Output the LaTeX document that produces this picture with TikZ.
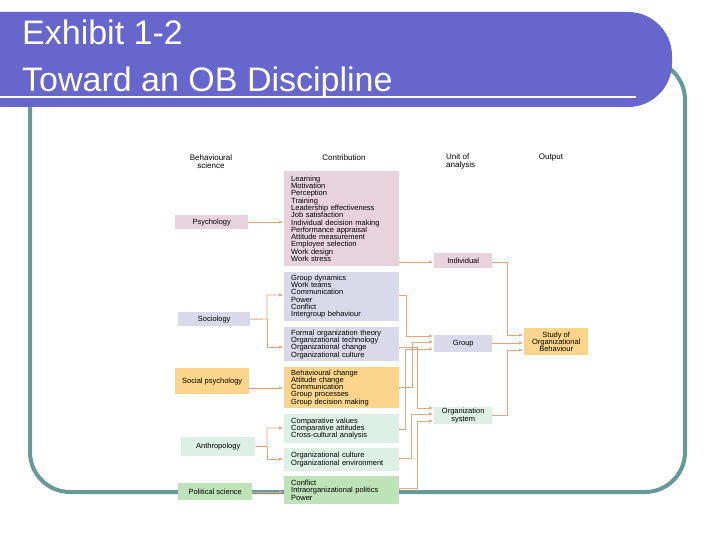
\documentclass[tikz,border=0pt]{standalone}
\usepackage{fontspec}
\setmainfont{Liberation Sans}
\usetikzlibrary{arrows.meta,calc}
\definecolor{pinkb}{HTML}{E8D3DD}
\definecolor{lavb}{HTML}{D9D9EA}
\definecolor{orb}{HTML}{FCD58C}
\definecolor{mintb}{HTML}{DDF0E6}
\definecolor{greenb}{HTML}{BFE3B8}
\definecolor{arr}{HTML}{E5A37E}
\definecolor{banner}{HTML}{6666CC}
\definecolor{frame}{HTML}{669999}
\tikzset{
  box/.style={fill=#1,inner sep=0pt,anchor=north west,font=\fontsize{7.5}{7.3}\selectfont},
  contrib/.style={box=#1,minimum width=115,text width=101,align=left},
  disc/.style={box=#1,align=center},
  unit/.style={box=#1,minimum width=58,align=center},
  conn/.style={draw=arr,line width=0.9pt,-{Latex[length=5pt,width=3pt]}},
  hdr/.style={font=\fontsize{8}{8}\selectfont,align=center,inner sep=0pt},
  title/.style={text=white,font=\fontsize{34}{34}\selectfont,anchor=base west,inner sep=0pt}
}
\begin{document}
\begin{tikzpicture}[x=1pt,y=-1pt]
\useasboundingbox (0,0) rectangle (720,540);
\draw[frame,line width=4pt,rounded corners=40] (30,60) rectangle (685,492);
\fill[banner] (0,12) [rounded corners=44] -- (672,12) -- (672,107) [sharp corners] -- (0,107) -- cycle;
\node[title] (t1) at (22,45) {Exhibit 1-2};
\node[title] (t2) at (22,92) {Toward an OB Discipline};
\draw[white,line width=1.5pt] (0,97) -- (636,97);
% headers
\node[hdr] (h1) at (211,162) {Behavioural\\science};
\node[hdr] (h2) at (344,158) {Contribution};
\node[hdr,align=left,anchor=north west] (h3) at (446,154) {Unit of\\analysis};
\node[hdr] (h4) at (551,158) {Output};
% disciplines
\node[disc=pinkb,minimum width=73,minimum height=14] (psy) at (175,215) {Psychology};
\node[disc=lavb,minimum width=72,minimum height=14] (soc) at (178,312) {Sociology};
\node[disc=orb,minimum width=74,minimum height=26] (sps) at (175,368) {Social psychology};
\node[disc=mintb,minimum width=74,minimum height=19] (ant) at (181,437) {Anthropology};
\node[disc=greenb,minimum width=74,minimum height=17] (pol) at (178,483) {Political science};
% contributions
\node[contrib=pinkb,minimum height=95] (learn) at (284,171) {Learning\\Motivation\\Perception\\Training\\Leadership effectiveness\\Job satisfaction\\Individual decision making\\Performance appraisal\\Attitude measurement\\Employee selection\\Work design\\Work stress};
\node[contrib=lavb,minimum height=49] (gd) at (284,272) {Group dynamics\\Work teams\\Communication\\Power\\Conflict\\Intergroup behaviour};
\node[contrib=lavb,minimum height=34] (fo) at (284,327) {Formal organization theory\\Organizational technology\\Organizational change\\Organizational culture};
\node[contrib=orb,minimum height=41] (bc) at (284,367) {Behavioural change\\Attitude change\\Communication\\Group processes\\Group decision making};
\node[contrib=mintb,minimum height=29] (cv) at (284,414) {Comparative values\\Comparative attitudes\\Cross-cultural analysis};
\node[contrib=mintb,minimum height=23] (oc) at (284,448) {Organizational culture\\Organizational environment};
\node[contrib=greenb,minimum height=28] (cf) at (284,476) {Conflict\\Intraorganizational politics\\Power};
% units
\node[unit=pinkb,minimum height=15] (ind) at (434,253) {Individual};
\node[unit=lavb,minimum height=17] (grp) at (434,335) {Group};
\node[unit=mintb,minimum height=17] (org) at (434,407) {Organization\\system};
\node[box=orb,minimum width=64,minimum height=27,align=center] (ob) at (524,328) {Study of\\Organizational\\Behaviour};
% connectors
\draw[conn] (psy.east |- 0,222) -- (learn.west |- 0,222);
\draw[conn] (sps.east |- 0,388) -- (bc.west |- 0,388);
\draw[conn] (pol.east |- 0,492) -- (cf.west |- 0,492);
\draw[conn] (soc.east) -- (267,319) |- (gd.west |- 0,295);
\draw[conn] (267,319) |- (fo.west |- 0,347);
\draw[conn] (ant.east) -- (267,446.5) |- (cv.west |- 0,428);
\draw[conn] (267,446.5) |- (oc.west |- 0,459);
\draw[conn] (learn.east |- 0,262) -- (ind.west |- 0,262);
\draw[conn] (gd.east |- 0,295) -- (406,295) |- (grp.west |- 0,336);
\draw[conn] (bc.east |- 0,387) -- (412,387) |- (grp.west |- 0,342);
\draw[conn] (cv.east |- 0,429) -- (405,429) |- (grp.west |- 0,349);
\draw[conn] (fo.east |- 0,347) -- (417,347) |- (org.west |- 0,408);
\draw[conn] (oc.east |- 0,458) -- (411,458) |- (org.west |- 0,414);
\draw[conn] (cf.east |- 0,488) -- (417,488) |- (org.west |- 0,421);
\draw[conn] (ind.east |- 0,262) -- (507,262) |- (ob.west |- 0,335);
\draw[conn] (grp.east |- 0,343) -- (ob.west |- 0,343);
\draw[conn] (org.east |- 0,415) -- (507,415) |- (ob.west |- 0,350);
\end{tikzpicture}
\end{document}
